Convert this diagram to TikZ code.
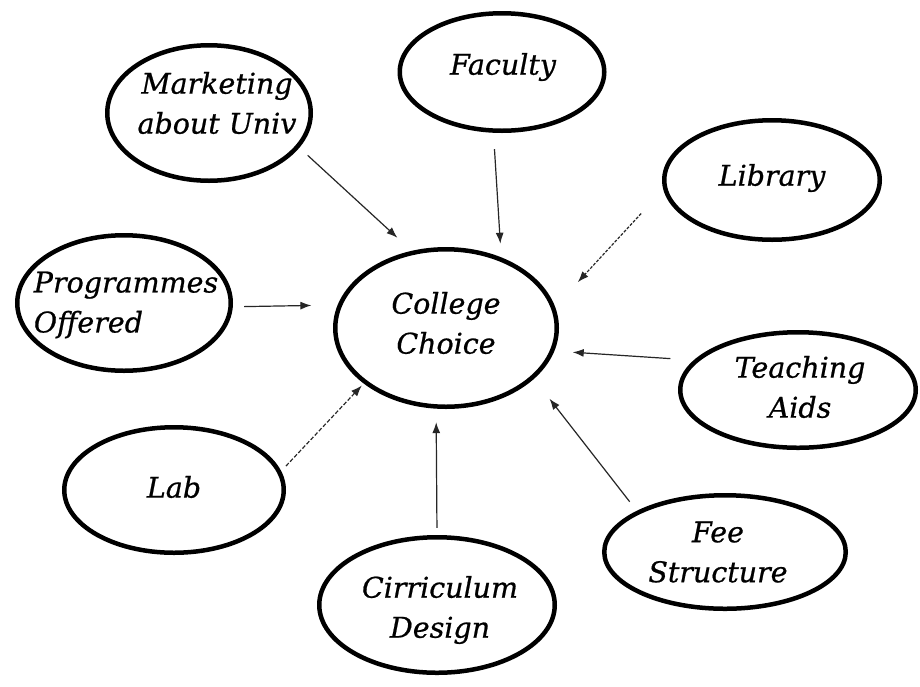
\documentclass[tikz,border=0pt]{standalone}
\usepackage{fontspec}
\setmainfont{DejaVu Serif}
\newfontfamily\lblfont{DejaVu Serif}[FakeBold=0.7]
\usetikzlibrary{shapes.geometric,arrows.meta}
\begin{document}
\begin{tikzpicture}[x=1pt,y=-1pt,
  ell/.style={ellipse, draw=black, line width=4.5pt, inner sep=0pt},
  txt/.style={font=\lblfont\itshape\fontsize{28.5}{40}\selectfont, align=center, inner sep=0pt},
  arr/.style={-{Latex[length=11pt,width=8pt]}, line width=1.2pt, draw=black!85},
  dsh/.style={dash pattern=on 3pt off 1.5pt},
  dshb/.style={dash pattern=on 4pt off 2pt}
]
\useasboundingbox (0,0) rectangle (920,686);
\fill[white] (0,0) rectangle (920,686);

\node[ell, minimum width=203.5pt, minimum height=135.5pt,
  label={[txt,xshift=8pt,yshift=10pt]center:{Marketing\\about Univ}}] (mkt) at (209,113) {};
\node[ell, minimum width=204.5pt, minimum height=117.5pt,
  label={[txt,xshift=1pt,yshift=5pt]center:Faculty}] (fac) at (502,72) {};
\node[ell, minimum width=215.5pt, minimum height=119.5pt,
  label={[txt,yshift=2pt]center:Library}] (lib) at (772,180) {};
\node[ell, minimum width=213.5pt, minimum height=135.5pt,
  label={[txt,align=left,xshift=2pt,yshift=-2pt]center:{Programmes\\Offered}}] (prog) at (124,303) {};
\node[ell, minimum width=221.5pt, minimum height=157.5pt,
  label={[txt,yshift=5pt]center:{College\\Choice}}] (cc) at (446,328) {};
\node[ell, minimum width=235.5pt, minimum height=115.5pt,
  label={[txt,xshift=2pt,yshift=3pt]center:{Teaching\\Aids}}] (teach) at (798,390) {};
\node[ell, minimum width=219.5pt, minimum height=125.5pt,
  label={[txt,yshift=3pt]center:Lab}] (lab) at (174,490) {};
\node[ell, minimum width=235.5pt, minimum height=135.5pt,
  label={[txt,xshift=3pt,yshift=-5pt]center:{Cirriculum\\Design}}] (cur) at (437,605) {};
\node[ell, minimum width=241.5pt, minimum height=113.5pt,
  label={[txt,xshift=-7pt]center:{Fee\\Structure}}] (fee) at (725,552) {};

\draw[arr, shorten <=11.3pt, shorten >=19.3pt] (mkt.-21.4) -- (cc.114.3);
\draw[arr, shorten <=16.4pt, shorten >=13.6pt] (fac.262.7) -- (cc.52.9);
\draw[arr, dsh, shorten <=32.7pt, shorten >=33.5pt] (lib.185.05) -- (cc.11);
\draw[arr, shorten <=11.4pt, shorten >=26.3pt] (prog.-2.15) -- (cc.168.87);
\draw[arr, shorten <=23.5pt, shorten >=18.4pt] (teach.164.5) -- (cc.-12.65);
\draw[arr, shorten <=11.6pt, shorten >=25.2pt] (fee.155) -- (cc.-30.6);
\draw[arr, shorten <=7.25pt, shorten >=13.5pt] (cur.north) -- (cc.263.5);
\draw[arr, dshb, shorten <=7pt, shorten >=2.7pt] (lab.10.9) -- (cc.214.9);
\end{tikzpicture}
\end{document}
